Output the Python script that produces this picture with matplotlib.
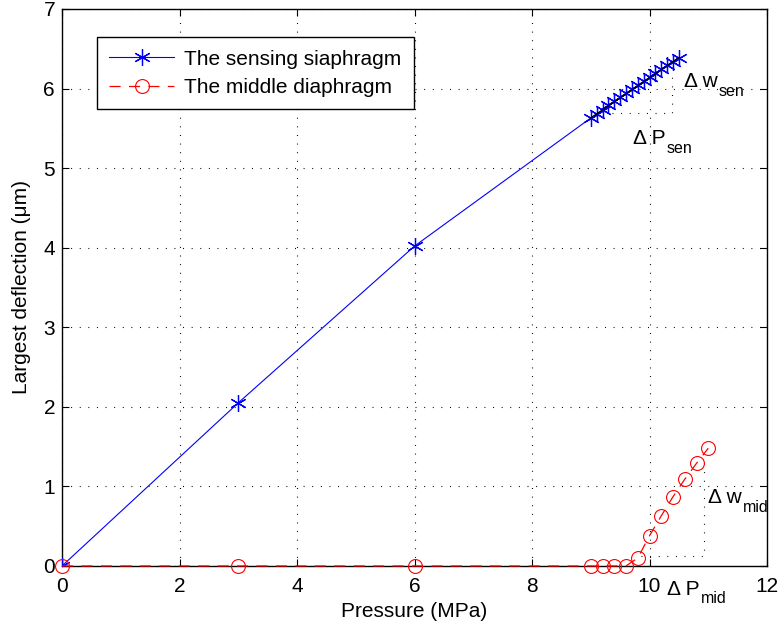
import matplotlib
matplotlib.use("Agg")
import matplotlib.pyplot as plt
from matplotlib.lines import Line2D

plt.rcParams['font.family'] = ['Liberation Sans', 'DejaVu Sans']
plt.rcParams['lines.scale_dashes'] = False

# Data
sen_p = [0, 3, 6, 9.0, 9.1, 9.2, 9.3, 9.4, 9.5, 9.6, 9.7, 9.8, 9.9, 10.0,
         10.1, 10.2, 10.3, 10.4, 10.5]
sen_w = [0, 2.05, 4.02, 5.63, 5.68, 5.73, 5.79, 5.84, 5.89, 5.94, 5.99, 6.04,
         6.09, 6.14, 6.19, 6.24, 6.29, 6.34, 6.39]
mid_p = [0, 3, 6, 9.0, 9.2, 9.4, 9.6, 9.8, 10.0, 10.2, 10.4, 10.6, 10.8, 11.0]
mid_w = [0, 0, 0, 0, 0, 0, 0, 0.10, 0.38, 0.63, 0.87, 1.09, 1.29, 1.48]

sen_label = 'The sensing siaphragm'
mid_label = 'The middle diaphragm'
x_ticks = [0, 2, 4, 6, 8, 10, 12]
y_ticks = [0, 1, 2, 3, 4, 5, 6, 7]

# Annotation guide lines (data coords)
sen_fit_p = [9.0, 10.5]
sen_fit_w = [5.63, 6.39]
sen_guide_p = [9.36, 10.38, 10.38]
sen_guide_w = [5.69, 5.69, 6.22]
mid_guide_p = [9.85, 10.93, 10.93]
mid_guide_w = [0.12, 0.12, 1.29]

fig = plt.figure(figsize=(7.79, 6.29), dpi=100)
ax = fig.add_axes([0.0796, 0.1002, 0.9050, 0.8855])

asterisk = (6, 2, 0)
ax.plot(sen_p, sen_w, color='blue', lw=0.8, marker=asterisk, ms=12,
        mew=0.9, label=sen_label, zorder=3)
ax.plot(sen_fit_p, sen_fit_w, color='black', lw=0.9, zorder=4)
ax.plot(mid_p, mid_w, color='red', lw=0.9, dashes=(8, 6), marker='o', ms=10,
        mfc='none', mew=0.8, label=mid_label, zorder=3, clip_on=False)

dot = (0, (0.7, 5.5))
ax.plot(sen_guide_p, sen_guide_w, color='black', lw=0.8, linestyle=dot)
ax.plot(mid_guide_p, mid_guide_w, color='black', lw=0.8, linestyle=dot)

fs = 15
sub_fs = 11.5


def delta_label(x, y, main, sub):
    t = ax.text(x, y, main, fontsize=fs, va='baseline', clip_on=False)
    ax.annotate(sub, xy=(1, 0), xycoords=t, xytext=(0.5, -3.5),
                textcoords='offset points', fontsize=sub_fs, va='baseline',
                annotation_clip=False)


delta_label(10.59, 6.02, 'Δ w', 'sen')
delta_label(9.72, 5.30, 'Δ P', 'sen')
delta_label(11.0, 0.79, 'Δ w', 'mid')
delta_label(10.30, -0.36, 'Δ P', 'mid')

ax.set_xlim(0, 12)
ax.set_ylim(0, 7)
ax.set_xticks(x_ticks)
ax.set_yticks(y_ticks)
ax.tick_params(direction='in', length=5, width=0.8, labelsize=fs,
               top=True, right=True)
ax.tick_params(axis='x', pad=8)
ax.tick_params(axis='y', pad=5)
for s in ax.spines.values():
    s.set_linewidth(1.0)
ax.grid(True, color='black', lw=0.8, linestyle=dot)
ax.set_axisbelow(True)

ax.set_xlabel('Pressure (MPa)', fontsize=fs, labelpad=4)
ax.set_ylabel('Largest deflection (μm)', fontsize=fs, labelpad=9)

h1 = Line2D([], [], color='blue', lw=0.8, marker=asterisk, ms=12, mew=0.9)
h2 = Line2D([], [], color='red', lw=0.9, dashes=(8, 6), marker='o', ms=10,
            mfc='none', mew=0.8)
leg = ax.legend([h1, h2], [sen_label, mid_label], loc='upper left',
                bbox_to_anchor=(0.0496, 0.9497), fontsize=fs,
                fancybox=False, framealpha=1, edgecolor='black',
                handlelength=3.1, handletextpad=0.48, labelspacing=0.45,
                borderpad=0.6, borderaxespad=0)
leg.get_frame().set_linewidth(1.0)

fig.savefig('out.png', dpi=100)
